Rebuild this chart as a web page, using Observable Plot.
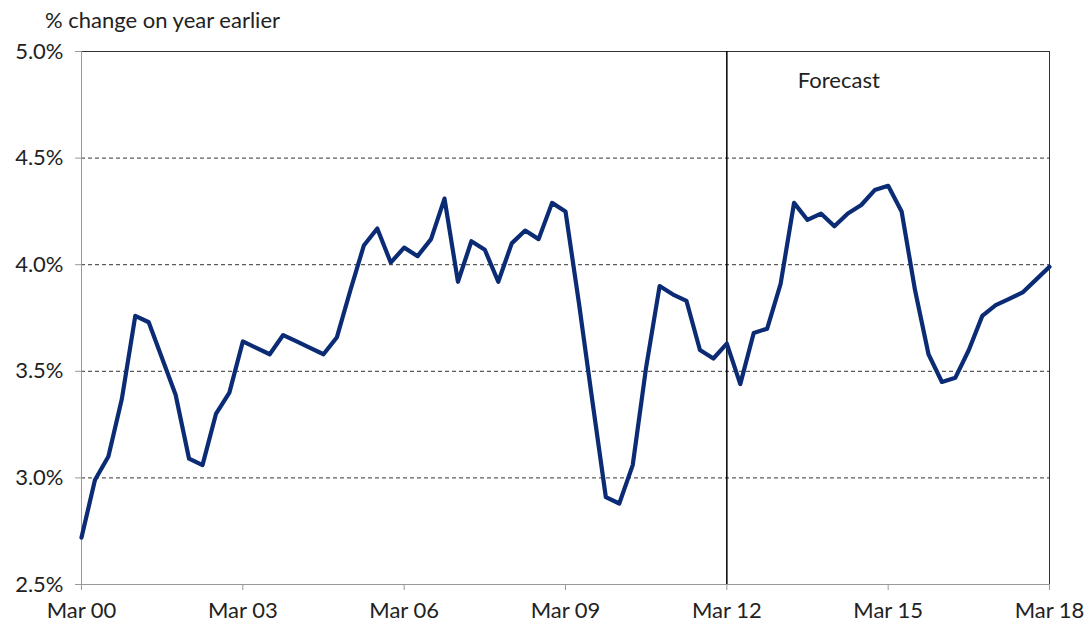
<!DOCTYPE html>
<html>
<head>
<meta charset="utf-8">
<script src="https://cdn.jsdelivr.net/npm/d3@7"></script>
<script src="https://cdn.jsdelivr.net/npm/@observablehq/plot@0.6"></script>
<style>
  body { margin: 0; background: #fff; font-family: Lato, "Open Sans", sans-serif; }
  #title { height: 28px; line-height: 28px; padding-top: 6px; padding-left: 45px; font-size: 22px; color: #222; }
</style>
</head>
<body>
<div id="title">% change on year earlier</div>
<div id="chart"></div>
<script>
// Quarterly values, Mar 2000 to Mar 2018 (73 quarters)
const values = [
  2.72, 2.99, 3.10, 3.37, 3.76, 3.73, 3.56, 3.39, 3.09, 3.06, 3.30, 3.40,
  3.64, 3.61, 3.58, 3.67, 3.64, 3.61, 3.58, 3.66, 3.88, 4.09, 4.17, 4.01,
  4.08, 4.04, 4.12, 4.31, 3.92, 4.11, 4.07, 3.92, 4.10, 4.16, 4.12, 4.29,
  4.25, 3.82, 3.36, 2.91, 2.88, 3.06, 3.52, 3.90, 3.86, 3.83, 3.60, 3.56,
  3.63, 3.44, 3.68, 3.70, 3.91, 4.29, 4.21, 4.24, 4.18, 4.24, 4.28, 4.35,
  4.37, 4.25, 3.88, 3.58, 3.45, 3.47, 3.60, 3.76, 3.81, 3.84, 3.87, 3.93,
  3.99
];
const xTickIndex = [0, 12, 24, 36, 48, 60, 72];
const xTickLabels = ["Mar 00", "Mar 03", "Mar 06", "Mar 09", "Mar 12", "Mar 15", "Mar 18"];
const yTicks = [2.5, 3.0, 3.5, 4.0, 4.5, 5.0];
const gridValues = [3.0, 3.5, 4.0, 4.5];
const forecastStart = [48];
const forecastLabel = ["Forecast"];

const data = values.map((v, i) => ({i, v}));

const chart = Plot.plot({
  width: 1090,
  height: 592,
  marginLeft: 81,
  marginRight: 41,
  marginTop: 17,
  marginBottom: 42,
  style: {fontFamily: "Lato, 'Open Sans', sans-serif", fontSize: "22px", color: "#222", background: "#fff"},
  x: {domain: [0, 72]},
  y: {domain: [2.5, 5.0]},
  marks: [
    Plot.ruleY(gridValues, {stroke: "#333", strokeDasharray: "4,3", strokeWidth: 1}),
    Plot.ruleY([5.0], {stroke: "#333", strokeWidth: 1}),
    Plot.ruleX([72], {stroke: "#333", strokeWidth: 1}),
    Plot.ruleX([0], {stroke: "#999", strokeWidth: 1}),
    Plot.ruleY([2.5], {stroke: "#999", strokeWidth: 1}),
    Plot.ruleX(forecastStart, {stroke: "#000", strokeWidth: 1.5}),
    Plot.line(data, {x: "i", y: "v", stroke: "#0b2c74", strokeWidth: 4.2, strokeLinejoin: "round"}),
    Plot.axisY({ticks: yTicks, tickFormat: d => d.toFixed(1) + "%", tickSize: 6, tickPadding: 12, stroke: "#999", label: null, fontSize: 22}),
    Plot.axisX({ticks: xTickIndex, tickFormat: i => xTickLabels[xTickIndex.indexOf(i)], tickSize: 6, tickPadding: 12, stroke: "#999", label: null, fontSize: 22}),
    Plot.text(forecastLabel, {x: () => forecastStart[0], frameAnchor: "top", dy: 21, dx: 71, textAnchor: "start", fontSize: 22, fill: "#222"})
  ]
});
document.getElementById("chart").appendChild(chart);
</script>
</body>
</html>
